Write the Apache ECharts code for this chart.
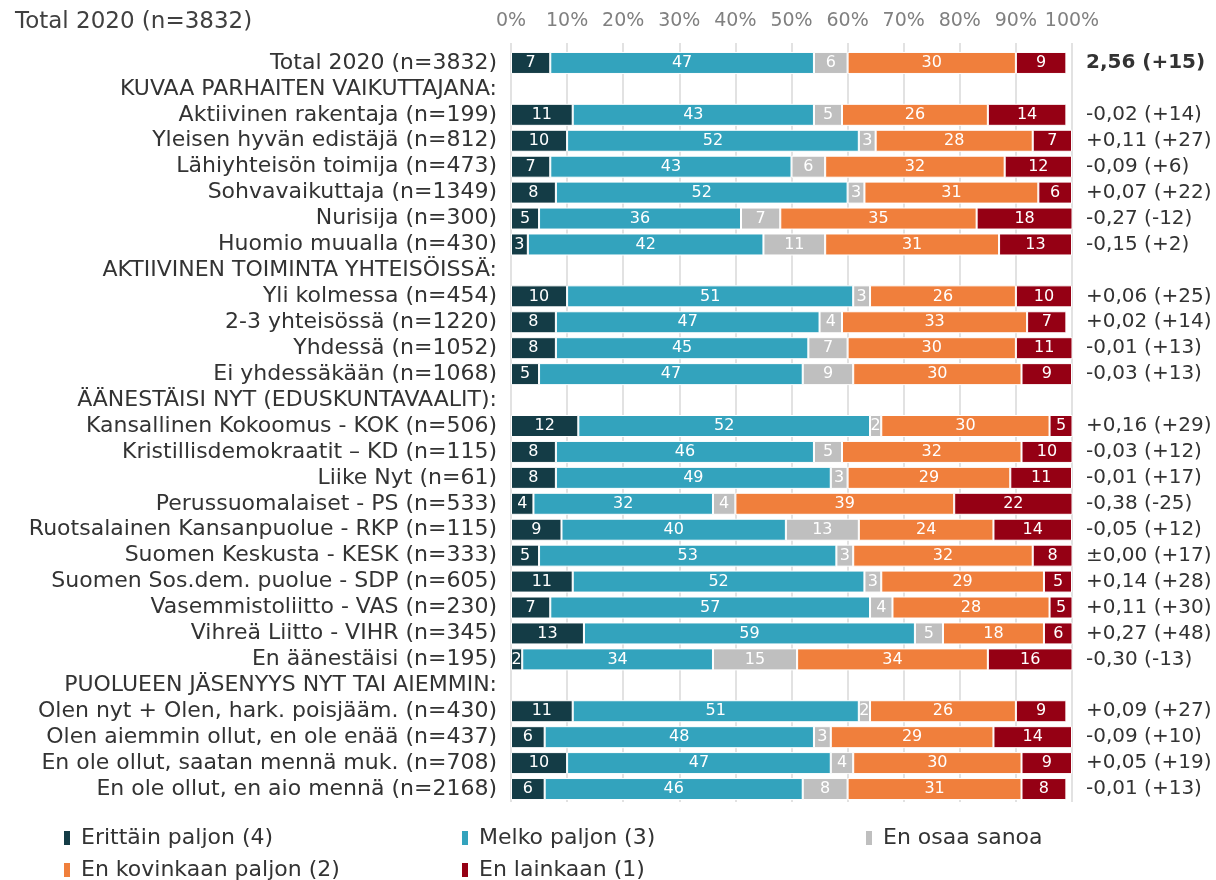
<!DOCTYPE html>
<html>
<head>
<meta charset="utf-8">
<script src="https://cdn.jsdelivr.net/npm/echarts@6/dist/echarts.min.js"></script>
<style>
html,body{margin:0;padding:0;background:#fff;}
#chart{width:1216px;height:880px;}
</style>
</head>
<body>
<div id="chart"></div>
<script>
const categories = [
  "Total 2020 (n=3832)",
  "KUVAA PARHAITEN VAIKUTTAJANA:",
  "Aktiivinen rakentaja (n=199)",
  "Yleisen hyvän edistäjä (n=812)",
  "Lähiyhteisön toimija (n=473)",
  "Sohvavaikuttaja (n=1349)",
  "Nurisija (n=300)",
  "Huomio muualla (n=430)",
  "AKTIIVINEN TOIMINTA YHTEISÖISSÄ:",
  "Yli kolmessa (n=454)",
  "2-3 yhteisössä (n=1220)",
  "Yhdessä (n=1052)",
  "Ei yhdessäkään (n=1068)",
  "ÄÄNESTÄISI NYT (EDUSKUNTAVAALIT):",
  "Kansallinen Kokoomus - KOK (n=506)",
  "Kristillisdemokraatit – KD (n=115)",
  "Liike Nyt (n=61)",
  "Perussuomalaiset - PS (n=533)",
  "Ruotsalainen Kansanpuolue - RKP (n=115)",
  "Suomen Keskusta - KESK (n=333)",
  "Suomen Sos.dem. puolue - SDP (n=605)",
  "Vasemmistoliitto - VAS (n=230)",
  "Vihreä Liitto - VIHR (n=345)",
  "En äänestäisi (n=195)",
  "PUOLUEEN JÄSENYYS NYT TAI AIEMMIN:",
  "Olen nyt + Olen, hark. poisjääm. (n=430)",
  "Olen aiemmin ollut, en ole enää (n=437)",
  "En ole ollut, saatan mennä muk. (n=708)",
  "En ole ollut, en aio mennä (n=2168)"
];

const seriesNames = ["Erittäin paljon (4)", "Melko paljon (3)", "En osaa sanoa", "En kovinkaan paljon (2)", "En lainkaan (1)"];

const erittain  = [7, null, 11, 10, 7, 8, 5, 3, null, 10, 8, 8, 5, null, 12, 8, 8, 4, 9, 5, 11, 7, 13, 2, null, 11, 6, 10, 6];
const melko     = [47, null, 43, 52, 43, 52, 36, 42, null, 51, 47, 45, 47, null, 52, 46, 49, 32, 40, 53, 52, 57, 59, 34, null, 51, 48, 47, 46];
const enOsaa    = [6, null, 5, 3, 6, 3, 7, 11, null, 3, 4, 7, 9, null, 2, 5, 3, 4, 13, 3, 3, 4, 5, 15, null, 2, 3, 4, 8];
const kovinkaan = [30, null, 26, 28, 32, 31, 35, 31, null, 26, 33, 30, 30, null, 30, 32, 29, 39, 24, 32, 29, 28, 18, 34, null, 26, 29, 30, 31];
const lainkaan  = [9, null, 14, 7, 12, 6, 18, 13, null, 10, 7, 11, 9, null, 5, 10, 11, 22, 14, 8, 5, 5, 6, 16, null, 9, 14, 9, 8];

const rightLabels = [
  "2,56 (+15)", "", "-0,02 (+14)", "+0,11 (+27)", "-0,09 (+6)", "+0,07 (+22)", "-0,27 (-12)", "-0,15 (+2)",
  "", "+0,06 (+25)", "+0,02 (+14)", "-0,01 (+13)", "-0,03 (+13)",
  "", "+0,16 (+29)", "-0,03 (+12)", "-0,01 (+17)", "-0,38 (-25)", "-0,05 (+12)", "±0,00 (+17)", "+0,14 (+28)", "+0,11 (+30)", "+0,27 (+48)", "-0,30 (-13)",
  "", "+0,09 (+27)", "-0,09 (+10)", "+0,05 (+19)", "-0,01 (+13)"
];

const xTicks = [0, 10, 20, 30, 40, 50, 60, 70, 80, 90, 100];

const colors = ["#143c46", "#33a3bd", "#bfbfbf", "#f07f3c", "#950014"];
const values = [erittain, melko, enOsaa, kovinkaan, lainkaan];

const chart = echarts.init(document.getElementById('chart'), null, {renderer: 'canvas'});

const series = seriesNames.map((name, i) => ({
  name: name,
  type: 'bar',
  stack: 'total',
  barWidth: 22,
  data: values[i],
  itemStyle: {color: colors[i], borderColor: '#ffffff', borderWidth: 1},
  label: {
    show: true,
    position: 'inside',
    color: '#ffffff',
    fontFamily: 'DejaVu Sans',
    fontSize: 16,
    formatter: p => (p.value == null ? '' : String(p.value))
  },
  emphasis: {disabled: true},
  animation: false
}));

const legendWidths = [369, 375, 200, 369, 200];

chart.setOption({
  animation: false,
  color: colors,
  title: {
    text: "Total 2020 (n=3832)",
    left: 10,
    top: 6,
    textStyle: {fontFamily: 'DejaVu Sans', fontWeight: 'normal', fontSize: 23, color: '#404040'}
  },
  grid: {left: 511, right: 144, top: 50, height: 752, containLabel: false, outerBoundsMode: 'none'},
  xAxis: {
    type: 'value',
    position: 'top',
    min: 0,
    max: 100,
    interval: 10,
    axisLine: {show: false},
    axisTick: {show: true, length: 7, lineStyle: {color: '#d9d9d9', width: 1.5}},
    splitLine: {show: true, lineStyle: {color: '#d9d9d9', width: 1.5}},
    axisLabel: {
      margin: 19,
      color: '#808080',
      fontFamily: 'DejaVu Sans',
      fontSize: 19,
      formatter: v => (xTicks.indexOf(v) >= 0 ? v + '%' : '')
    }
  },
  yAxis: [
    {
      type: 'category',
      inverse: true,
      data: categories,
      axisLine: {show: false},
      axisTick: {show: false},
      axisLabel: {
        margin: 14,
        color: '#333333',
        fontFamily: 'DejaVu Sans',
        fontSize: 22,
        interval: 0
      }
    },
    {
      type: 'category',
      inverse: true,
      position: 'right',
      data: rightLabels,
      axisLine: {show: false},
      axisTick: {show: false},
      axisLabel: {
        margin: 14,
        align: 'left',
        interval: 0,
        color: '#333333',
        fontFamily: 'DejaVu Sans',
        fontSize: 20,
        formatter: (v, idx) => (idx === 0 ? '{b|' + v + '}' : v),
        rich: {b: {fontWeight: 'bold', fontFamily: 'DejaVu Sans', fontSize: 20, color: '#333333'}}
      }
    }
  ],
  legend: {
    left: 57,
    top: 822,
    width: 1159,
    itemWidth: 8,
    itemHeight: 16,
    itemGap: 10,
    icon: 'rect',
    selectedMode: false,
    data: seriesNames.map((n, i) => ({name: n, textStyle: {width: legendWidths[i]}})),
    textStyle: {fontFamily: 'DejaVu Sans', fontSize: 22, color: '#333333', lineHeight: 21, padding: [0, 0, 0, 5]}
  },
  series: series
});
</script>
</body>
</html>
